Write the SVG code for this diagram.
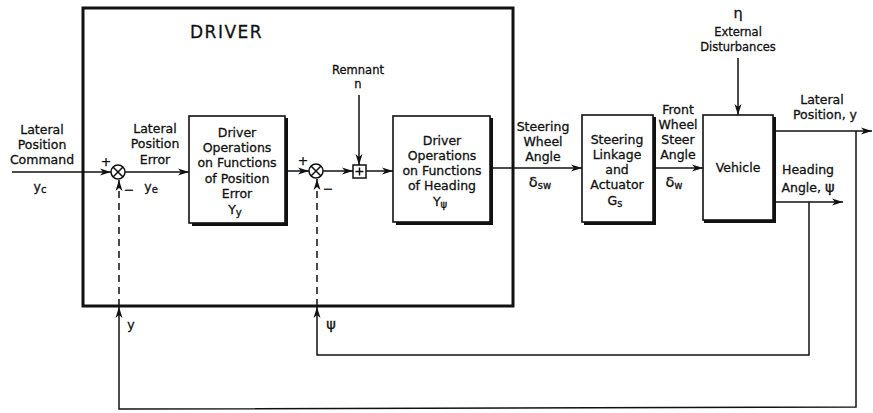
<svg xmlns="http://www.w3.org/2000/svg" width="873" height="413" viewBox="0 0 873 413">
<style>
text{font-family:"DejaVu Sans","Liberation Sans",sans-serif;font-size:12.5px;fill:#111;stroke:#111;stroke-width:0.3;text-anchor:middle}
.sm{font-size:11.5px}
.big{font-size:17px;letter-spacing:1.5px;text-anchor:start}
.gk{font-size:14.5px}
.sub{font-size:10px}
.ln{fill:none;stroke:#111;stroke-width:1.5}
.dash{fill:none;stroke:#111;stroke-width:1.5;stroke-dasharray:7,5}
.box{fill:#fff;stroke:#111;stroke-width:1.6}
.sh{fill:#111}
</style>
<defs>
<marker id="ar" markerWidth="12" markerHeight="8" refX="11" refY="4" orient="auto" markerUnits="userSpaceOnUse">
<path d="M0,0.5 L11,4 L0,7.5 L3,4 z" fill="#111"/>
</marker>
</defs>
<rect width="873" height="413" fill="#fff"/>
<g id="driver">
<rect x="83" y="8" width="430" height="298" fill="none" stroke="#111" stroke-width="3"/>
<text class="big" x="190" y="38">DRIVER</text>
</g>
<g id="connectors">
<path class="ln" d="M12,172 H111" marker-end="url(#ar)"/>
<path class="ln" d="M125,172 H189" marker-end="url(#ar)"/>
<path class="ln" d="M285,171 H309" marker-end="url(#ar)"/>
<path class="ln" d="M323,171 H353" marker-end="url(#ar)"/>
<path class="ln" d="M359,95 V165" marker-end="url(#ar)"/>
<path class="ln" d="M366,171 H393" marker-end="url(#ar)"/>
<path class="ln" d="M490,168 H582" marker-end="url(#ar)"/>
<path class="ln" d="M653,168 H703" marker-end="url(#ar)"/>
<path class="ln" d="M738,58 V115" marker-end="url(#ar)"/>
<path class="ln" d="M773,131 H872" marker-end="url(#ar)"/>
<path class="ln" d="M773,202 H843" marker-end="url(#ar)"/>
<path class="ln" d="M809,202 V355 H317 V307" marker-end="url(#ar)"/>
<path class="dash" d="M317,306 V179" marker-end="url(#ar)"/>
<path class="ln" d="M856,131 V407 L119,409 V307" marker-end="url(#ar)"/>
<path class="dash" d="M119,306 V180" marker-end="url(#ar)"/>
</g>
<g id="sum1">
<circle cx="118" cy="172" r="7" fill="#fff" stroke="#111" stroke-width="1.5"/>
<path class="ln" d="M113,167 L123,177 M123,167 L113,177"/>
<text x="106" y="166">+</text>
<text x="129" y="194">−</text>
</g>
<g id="sum2">
<circle cx="316" cy="171" r="7" fill="#fff" stroke="#111" stroke-width="1.5"/>
<path class="ln" d="M311,166 L321,176 M321,166 L311,176"/>
<text x="303" y="165">+</text>
<text x="328" y="193">−</text>
</g>
<g id="remnant-sum">
<rect x="353" y="165" width="13" height="13" fill="#fff" stroke="#111" stroke-width="1.5"/>
<path class="ln" d="M359.5,167.5 V175.5 M355.5,171.5 H363.5"/>
<text class="sm" x="358" y="74">Remnant</text>
<text class="sm" x="358" y="88">n</text>
</g>
<g id="cmd">
<text x="42" y="134">Lateral</text>
<text x="42" y="149">Position</text>
<text x="42" y="164">Command</text>
<text x="40" y="191">y<tspan class="sub" dy="2">c</tspan></text>
</g>
<g id="err">
<text x="155" y="133">Lateral</text>
<text x="155" y="148">Position</text>
<text x="155" y="164">Error</text>
<text x="151" y="191">y<tspan class="sub" dy="2">e</tspan></text>
</g>
<g id="Yy">
<path class="sh" d="M285,118 h3 v108 h-96 v-3 h93 z"/>
<rect class="box" x="189" y="116" width="96" height="107"/>
<text x="237" y="137">Driver</text>
<text x="237" y="152">Operations</text>
<text x="237" y="167">on Functions</text>
<text x="237" y="183">of Position</text>
<text x="237" y="198">Error</text>
<text x="235" y="214">Y<tspan class="sub" dy="2">y</tspan></text>
</g>
<g id="Ypsi">
<path class="sh" d="M490,118 h3 v107 h-97 v-3 h94 z"/>
<rect class="box" x="393" y="116" width="97" height="106"/>
<text x="442" y="145">Driver</text>
<text x="442" y="160">Operations</text>
<text x="442" y="175">on Functions</text>
<text x="442" y="190">of Heading</text>
<text x="440" y="206">Y<tspan class="sub" dy="2" fill="#111">ψ</tspan></text>
</g>
<g id="sw">
<text x="543" y="131">Steering</text>
<text x="543" y="146">Wheel</text>
<text x="543" y="161">Angle</text>
<text x="540" y="187"><tspan class="gk">δ</tspan><tspan class="sub" dy="2">sw</tspan></text>
</g>
<g id="Gs">
<path class="sh" d="M653,117 h3 v108 h-72 v-3 h69 z"/>
<rect class="box" x="582" y="115" width="71" height="107"/>
<text x="617" y="144">Steering</text>
<text x="617" y="159">Linkage</text>
<text x="617" y="174">and</text>
<text x="617" y="189">Actuator</text>
<text x="615" y="205">G<tspan class="sub" dy="2">s</tspan></text>
</g>
<g id="fw">
<text x="678" y="114">Front</text>
<text x="678" y="129">Wheel</text>
<text x="678" y="144">Steer</text>
<text x="678" y="159">Angle</text>
<text x="674" y="187"><tspan class="gk">δ</tspan><tspan class="sub" dy="2">w</tspan></text>
</g>
<g id="vehicle">
<path class="sh" d="M773,117 h3 v106 h-72 v-3 h69 z"/>
<rect class="box" x="703" y="115" width="70" height="105"/>
<text x="738" y="172">Vehicle</text>
</g>
<g id="dist">
<text class="gk" x="738" y="18">η</text>
<text class="sm" x="738" y="36">External</text>
<text class="sm" x="738" y="51">Disturbances</text>
</g>
<g id="outs">
<text x="822" y="104">Lateral</text>
<text x="825" y="119">Position, y</text>
<text x="808" y="174">Heading</text>
<text x="808" y="192">Angle, <tspan class="gk">ψ</tspan></text>
<text x="131" y="329">y</text>
<text class="gk" x="331" y="329">ψ</text>
</g>
</svg>
